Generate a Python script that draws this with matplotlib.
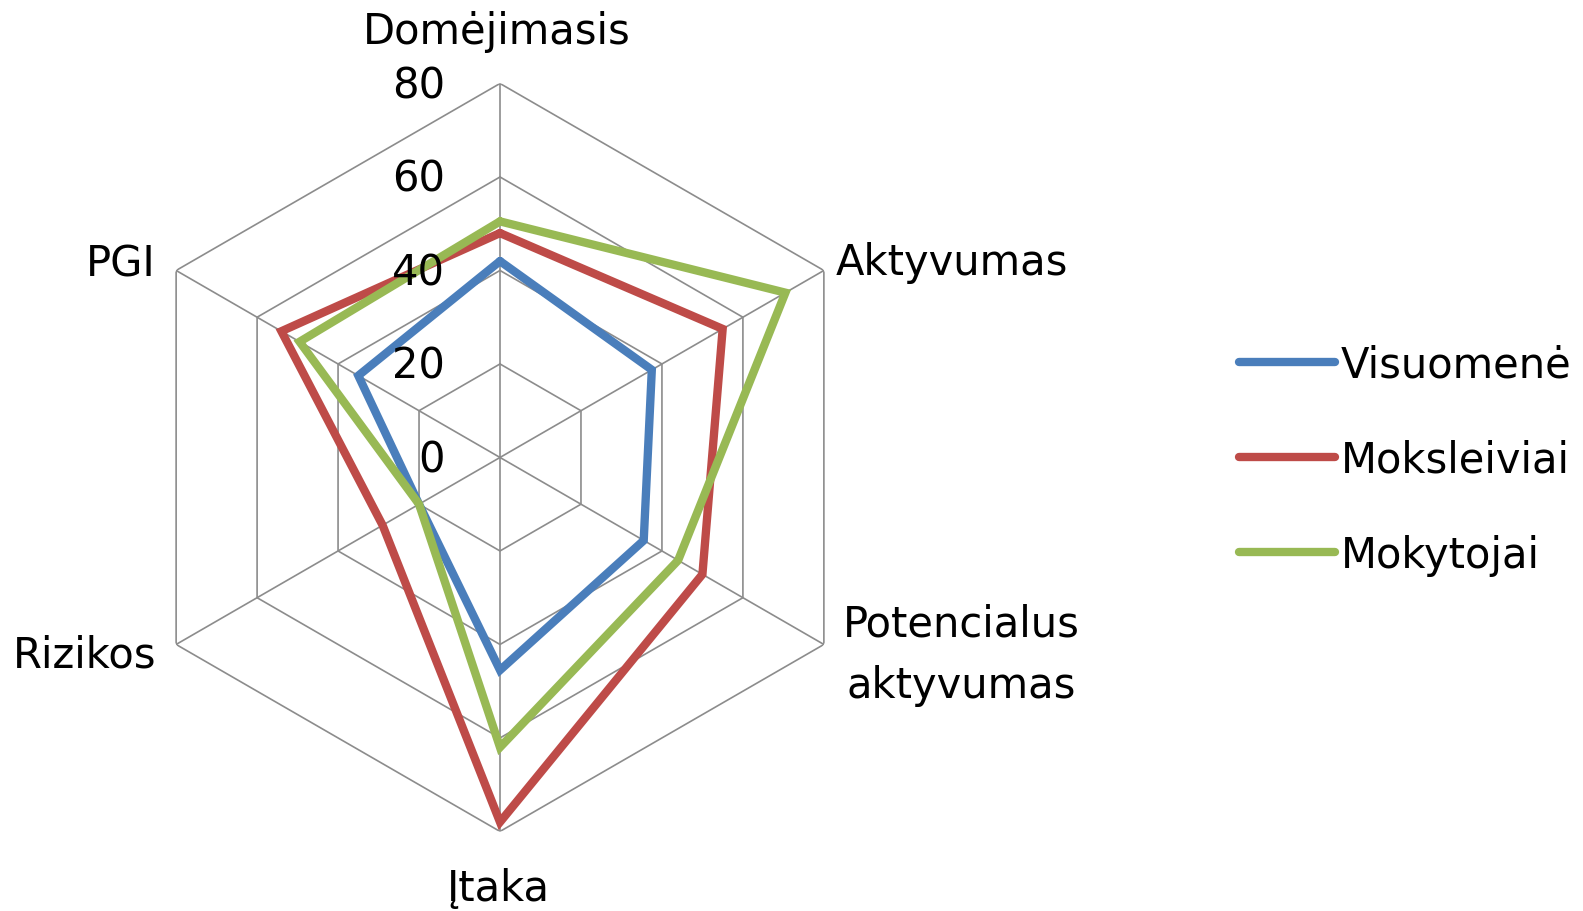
import numpy as np
import matplotlib.pyplot as plt

# Kategorijos (ašys) ir reikšmės
categories = ['Domėjimasis', 'Aktyvumas', 'Potencialus\naktyvumas', 'Įtaka', 'Rizikos', 'PGI']
visuomene = [42, 37.5, 35.5, 45.5, 20, 35]
moksleiviai = [48, 55, 50, 78, 29, 54]
mokytojai = [50.5, 70.5, 44, 62, 20, 49.5]
series_names = ['Visuomenė', 'Moksleiviai', 'Mokytojai']
rings = [0, 20, 40, 60, 80]

colors = ['#4A7EBB', '#BE4B48', '#98B954']
grid_col = '#8C8C8C'
fs = 30

plt.rcParams['font.family'] = ['DejaVu Sans']

n = len(categories)
theta = np.linspace(0, 2 * np.pi, n, endpoint=False)
theta_c = np.append(theta, theta[0])

fig = plt.figure(figsize=(15.83, 9.12), dpi=100)
ax = fig.add_axes([500 / 1583 - 0.4725 / 2, 0.0872, 0.4725, 0.8202], projection='polar')
ax.set_theta_zero_location('N')
ax.set_theta_direction(-1)
ax.set_ylim(0, 80)
ax.grid(False)
ax.spines['polar'].set_visible(False)
ax.set_xticks([])
ax.set_yticks([])

# Šešiakampis tinklelis
for r in rings[1:]:
    ax.plot(theta_c, [r] * (n + 1), color=grid_col, lw=1.2, zorder=1)
for t in theta:
    ax.plot([t, t], [0, 80], color=grid_col, lw=1.2, zorder=1)

# Duomenų serijos
for vals, name, c in zip([visuomene, moksleiviai, mokytojai], series_names, colors):
    v = list(vals) + [vals[0]]
    ax.plot(theta_c, v, color=c, lw=6, label=name, zorder=3,
            solid_joinstyle='miter', solid_capstyle='round')

# Skalės žymės
for r in rings:
    ax.annotate(str(r), xy=(0, r), xytext=(-55, -2), textcoords='offset pixels',
                ha='right', va='center', fontsize=fs, zorder=4)

# Ašių pavadinimai
offsets = [(-3, 52, 'center'), (12, 8, 'left'), (137, -10, 'center'),
           (-2, -57, 'center'), (-20, -10, 'right'), (-20, 7, 'right')]
for t, lab, (dx, dy, ha) in zip(theta, categories, offsets):
    ax.annotate(lab, xy=(t, 80), xytext=(dx, dy), textcoords='offset pixels',
                ha=ha, va='center', fontsize=fs, linespacing=1.6,
                multialignment='center', annotation_clip=False)

fig.legend(loc='center left', bbox_to_anchor=(1222 / 1583, 0.495), frameon=False,
           fontsize=fs, handlelength=2.3, handletextpad=0.15, labelspacing=1.28,
           borderaxespad=0)

fig.savefig('out.png', dpi=100)
